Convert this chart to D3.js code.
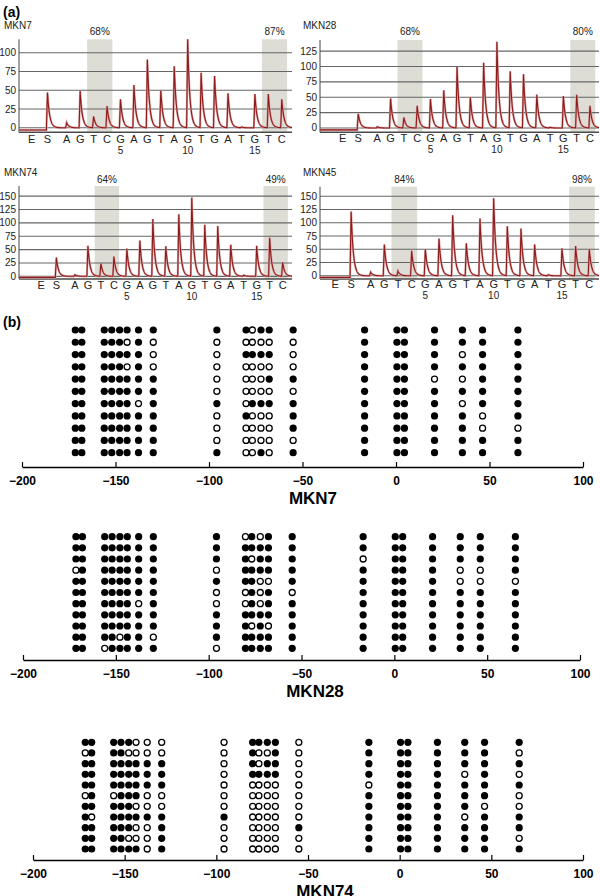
<!DOCTYPE html>
<html><head><meta charset="utf-8">
<script src="https://cdn.jsdelivr.net/npm/d3@7"></script>
<style>body{margin:0;background:#fff}svg{display:block}</style>
</head><body>
<svg id="c" width="600" height="896"></svg>
<script>
// ---------- DATA ----------
const sampleNames = ["MKN7", "MKN28", "MKN74", "MKN45"];
const dispensation = ["E","S","A","G","T","C","G","A","G","T","A","G","T","G","A","T","G","T","C"];
const dispNumbers = [5, 10, 15];
const cpgPairs = [[3, 4], [16, 17]];
// peak heights for S and dispensations 1..17
const peaksMKN7  = [47, 7, 49, 15, 29, 38, 57, 91, 50, 82, 118, 73, 69, 46, 1, 45, 45, 38];
const peaksMKN28 = [23, 2, 48, 17, 36, 47, 61, 99, 50, 106, 140, 92, 87, 54, 1, 52, 54, 36];
const peaksMKN74 = [35, 3, 57, 24, 37, 52, 67, 107, 56, 116, 147, 96, 94, 59, 2, 57, 72, 26];
const peaksMKN45 = [121, 7, 59, 9, 47, 50, 70, 114, 61, 108, 146, 93, 89, 59, 2, 52, 56, 50];
const pctMKN7  = ["68%", "87%"];
const pctMKN28 = ["68%", "80%"];
const pctMKN74 = ["64%", "49%"];
const pctMKN45 = ["84%", "98%"];
const preBaseline = [-3, -3, -2, -3];
const yTicksMKN7  = [0, 25, 50, 75, 100];
const yTicksMKN28 = [0, 25, 50, 75, 100, 125];
const yTicksMKN74 = [0, 25, 50, 75, 100, 125, 150];
const yTicksMKN45 = [0, 25, 50, 75, 100, 125, 150];

// CpG site positions (bp)
const cpgSites = [-171.5, -168, -156, -152, -147.8, -143.8, -137.7, -129.8, -95.8,
  -80.2, -76.8, -72.2, -67.8, -55, -16.8, 0.5, 4.5, 20.6, 35.5, 46.3, 65.2];
const axisTicks = [-200, -150, -100, -50, 0, 50, 100];
const methNames = ["MKN7", "MKN28", "MKN74"];
// 1 = methylated (filled), 0 = unmethylated (open); one string per clone
const methMKN7 = [
  "11"+"1111"+"1"+"1"+"1"+"1011"+"1"+"1"+"11"+"1"+"1"+"1"+"1",
  "11"+"1110"+"1"+"0"+"0"+"0000"+"0"+"1"+"11"+"1"+"1"+"1"+"1",
  "11"+"1111"+"1"+"0"+"0"+"1111"+"0"+"1"+"11"+"1"+"0"+"1"+"1",
  "11"+"1110"+"1"+"0"+"0"+"0000"+"0"+"1"+"11"+"1"+"1"+"1"+"1",
  "11"+"1111"+"1"+"1"+"0"+"0001"+"1"+"1"+"11"+"0"+"0"+"1"+"1",
  "11"+"1111"+"1"+"1"+"0"+"0000"+"0"+"1"+"11"+"1"+"1"+"1"+"1",
  "11"+"1111"+"0"+"1"+"1"+"0111"+"1"+"1"+"11"+"1"+"0"+"1"+"1",
  "11"+"1111"+"1"+"1"+"0"+"1000"+"1"+"1"+"11"+"1"+"1"+"0"+"1",
  "11"+"1111"+"1"+"1"+"0"+"0000"+"1"+"1"+"11"+"1"+"1"+"0"+"0",
  "11"+"1111"+"1"+"1"+"0"+"0000"+"0"+"1"+"11"+"1"+"1"+"1"+"1",
  "11"+"1111"+"1"+"1"+"1"+"0010"+"1"+"1"+"11"+"1"+"1"+"1"+"1"
];
const methMKN28 = [
  "11"+"1111"+"1"+"1"+"1"+"0101"+"1"+"1"+"11"+"1"+"1"+"1"+"1",
  "11"+"1111"+"1"+"1"+"1"+"1111"+"1"+"1"+"11"+"1"+"1"+"1"+"1",
  "11"+"1111"+"1"+"1"+"1"+"1011"+"1"+"0"+"11"+"1"+"1"+"1"+"1",
  "01"+"1111"+"1"+"1"+"0"+"1111"+"1"+"1"+"11"+"1"+"0"+"0"+"1",
  "11"+"1111"+"1"+"1"+"1"+"1100"+"1"+"1"+"11"+"1"+"0"+"0"+"0",
  "11"+"1111"+"1"+"1"+"0"+"0101"+"0"+"1"+"11"+"1"+"1"+"1"+"1",
  "11"+"1111"+"0"+"1"+"0"+"0101"+"1"+"1"+"11"+"1"+"1"+"1"+"1",
  "11"+"1111"+"1"+"1"+"1"+"1111"+"1"+"1"+"11"+"1"+"1"+"1"+"1",
  "11"+"1111"+"1"+"1"+"1"+"1010"+"1"+"1"+"11"+"1"+"1"+"1"+"1",
  "11"+"1101"+"1"+"0"+"1"+"1111"+"1"+"1"+"11"+"1"+"1"+"1"+"1",
  "11"+"0111"+"1"+"1"+"0"+"1111"+"1"+"1"+"11"+"1"+"1"+"1"+"1"
];
const methMKN74 = [
  "11"+"1110"+"0"+"0"+"0"+"1111"+"0"+"1"+"11"+"1"+"1"+"1"+"1",
  "01"+"1100"+"0"+"0"+"0"+"1001"+"0"+"1"+"11"+"1"+"1"+"1"+"0",
  "11"+"1111"+"1"+"1"+"0"+"1011"+"0"+"1"+"11"+"1"+"1"+"1"+"1",
  "11"+"1111"+"1"+"1"+"0"+"1111"+"0"+"1"+"11"+"1"+"0"+"1"+"0",
  "11"+"1111"+"1"+"1"+"0"+"0000"+"0"+"0"+"11"+"1"+"1"+"1"+"1",
  "01"+"0111"+"0"+"0"+"0"+"0000"+"0"+"1"+"11"+"1"+"1"+"1"+"0",
  "11"+"1110"+"0"+"0"+"0"+"0000"+"0"+"1"+"11"+"1"+"1"+"0"+"0",
  "10"+"1111"+"1"+"1"+"1"+"0000"+"0"+"1"+"11"+"1"+"0"+"1"+"1",
  "11"+"1110"+"0"+"1"+"0"+"0000"+"1"+"1"+"11"+"1"+"1"+"1"+"1",
  "11"+"1100"+"0"+"1"+"0"+"0000"+"0"+"1"+"11"+"1"+"1"+"1"+"0",
  "11"+"1111"+"0"+"1"+"0"+"0000"+"0"+"1"+"11"+"1"+"1"+"1"+"1"
];

// ---------- LAYOUT ----------
const FONT = "'Liberation Sans', Arial, sans-serif";
const svg = d3.select("#c");
const peaksAll = [peaksMKN7, peaksMKN28, peaksMKN74, peaksMKN45];
const pctAll = [pctMKN7, pctMKN28, pctMKN74, pctMKN45];
const yTicksAll = [yTicksMKN7, yTicksMKN28, yTicksMKN74, yTicksMKN45];
const pyroLayout = [
  {left:19,  right:292, top:39.3,  bottom:132.3, yDom:[-6,118], xDom:[-2.55,17.76], titleX:4,   titleY:25.3, pctY:31,  letY:139,   numY:150.5},
  {left:320, right:599, top:40,    bottom:132.3, yDom:[-7,143], xDom:[-3.31,17.68], titleX:303, titleY:25.3, pctY:31,  letY:138,   numY:149.5},
  {left:19,  right:292, top:186,   bottom:279,   yDom:[-5,169], xDom:[-3.31,17.72], titleX:4,   titleY:172,  pctY:179, letY:285.2, numY:296.8},
  {left:320, right:599, top:186.7, bottom:279,   yDom:[-6,168], xDom:[-2.71,17.71], titleX:303, titleY:172,  pctY:179, letY:284.2, numY:295.8}
];
const posOf = k => k === 0 ? -1.6 : (k === 1 ? -0.43 : k - 1);

svg.append("text").attr("x", 3).attr("y", 12).attr("dy", "0.35em")
  .attr("font-family", FONT).attr("font-weight", "bold").attr("font-size", 14).text("(a)");
svg.append("text").attr("x", 3).attr("y", 322).attr("dy", "0.35em")
  .attr("font-family", FONT).attr("font-weight", "bold").attr("font-size", 14).text("(b)");

function peakShape(d) {
  const rise = 0.08, tau = 0.16;
  if (d < -rise) return 0;
  if (d < 0) return 1 + d / rise;
  return Math.exp(-d / tau);
}

pyroLayout.forEach((L, i) => {
  const g = svg.append("g");
  const x = d3.scaleLinear().domain(L.xDom).range([L.left, L.right]);
  const y = d3.scaleLinear().domain(L.yDom).range([L.bottom, L.top]);
  cpgPairs.forEach((p, j) => {
    const x0 = x(p[0] - 0.48), x1 = x(p[1] + 0.4);
    g.append("rect").attr("x", x0).attr("y", L.top).attr("width", x1 - x0)
      .attr("height", L.bottom - L.top).attr("fill", "#dddcd5");
    g.append("text").attr("x", (x0 + x1) / 2).attr("y", L.pctY).attr("dy", "0.35em")
      .attr("text-anchor", "middle").attr("font-family", FONT).attr("font-size", 10)
      .attr("fill", "#222").text(pctAll[i][j]);
  });
  yTicksAll[i].forEach(v => {
    g.append("line").attr("x1", L.left).attr("x2", L.right).attr("y1", y(v)).attr("y2", y(v))
      .attr("stroke", "#666").attr("stroke-width", 1.1);
    g.append("text").attr("x", L.left - 3).attr("y", y(v)).attr("dy", "0.35em")
      .attr("text-anchor", "end").attr("font-family", FONT).attr("font-size", 10)
      .attr("fill", "#222").text(v);
  });
  g.append("line").attr("x1", L.left).attr("x2", L.right).attr("y1", L.bottom).attr("y2", L.bottom)
    .attr("stroke", "#4a4a4a").attr("stroke-width", 1.6);
  g.append("line").attr("x1", L.left).attr("x2", L.left).attr("y1", L.top).attr("y2", L.bottom)
    .attr("stroke", "#444").attr("stroke-width", 1);
  const pk = peaksAll[i];
  const pts = [];
  for (let t = L.xDom[0]; t <= L.xDom[1]; t += 0.01) {
    let v = t < posOf(1) - 0.08 ? preBaseline[i] : 0;
    pk.forEach((h, j) => { v += h * peakShape(t - posOf(j + 1)); });
    pts.push([t, v]);
  }
  const line = d3.line().x(d => x(d[0])).y(d => y(d[1]));
  g.append("path").attr("d", line(pts)).attr("fill", "none")
    .attr("stroke", "#d9a3a3").attr("stroke-width", 2.2);
  g.append("path").attr("d", line(pts)).attr("fill", "none")
    .attr("stroke", "#8e1b1b").attr("stroke-width", 1.1);
  dispensation.forEach((s, k) => {
    g.append("text").attr("x", x(posOf(k))).attr("y", L.letY).attr("dy", "0.35em")
      .attr("text-anchor", "middle").attr("font-family", FONT).attr("font-size", 11)
      .attr("fill", "#222").text(s);
  });
  dispNumbers.forEach(n => {
    g.append("text").attr("x", x(n)).attr("y", L.numY).attr("dy", "0.35em")
      .attr("text-anchor", "middle").attr("font-family", FONT).attr("font-size", 10)
      .attr("fill", "#222").text(n);
  });
  g.append("text").attr("x", L.titleX).attr("y", L.titleY).attr("dy", "0.35em")
    .attr("font-family", FONT).attr("font-size", 10).attr("fill", "#222").text(sampleNames[i]);
});

// ---------- Panel (b) ----------
const methAll = [methMKN7, methMKN28, methMKN74];
const methLayout = [
  {axisY:467, x0:22, x1:583, rowTop:330,   rowBot:452.7, titleX:313},
  {axisY:660, x0:23, x1:580, rowTop:536.7, rowBot:648.3, titleX:315},
  {axisY:860, x0:33, x1:583, rowTop:742.3, rowBot:849,   titleX:325}
];
methLayout.forEach((L, i) => {
  const g = svg.append("g");
  const x = d3.scaleLinear().domain([-200, 100]).range([L.x0, L.x1]);
  const rows = methAll[i];
  const y = d3.scaleLinear().domain([0, rows.length - 1]).range([L.rowTop, L.rowBot]);
  const cells = [];
  rows.forEach((r, ri) => r.split("").forEach((c, ci) => cells.push({ri, ci, m: c === "1"})));
  g.selectAll("circle.o").data(cells.filter(d => !d.m)).join("circle")
    .attr("cx", d => x(cpgSites[d.ci])).attr("cy", d => y(d.ri)).attr("r", 3.0)
    .attr("fill", "none").attr("stroke", "#000").attr("stroke-width", 1.3);
  g.selectAll("circle.f").data(cells.filter(d => d.m)).join("circle")
    .attr("cx", d => x(cpgSites[d.ci])).attr("cy", d => y(d.ri)).attr("r", 3.6)
    .attr("fill", "#000");
  const ax = g.append("g").attr("transform", `translate(0,${L.axisY})`)
    .call(d3.axisBottom(x).tickValues(axisTicks).tickSizeInner(-5).tickSizeOuter(0).tickPadding(9));
  ax.select(".domain").attr("stroke", "#000").attr("stroke-width", 1.3);
  ax.selectAll(".tick line").attr("stroke", "#000").attr("stroke-width", 1.2);
  ax.selectAll("text").attr("font-family", FONT).attr("font-weight", "bold")
    .attr("font-size", 12).attr("fill", "#000");
  g.append("text").attr("x", L.titleX).attr("y", L.axisY + 31).attr("dy", "0.35em")
    .attr("text-anchor", "middle").attr("font-family", FONT).attr("font-weight", "bold")
    .attr("font-size", 17).text(methNames[i]);
});
</script>
</body></html>
